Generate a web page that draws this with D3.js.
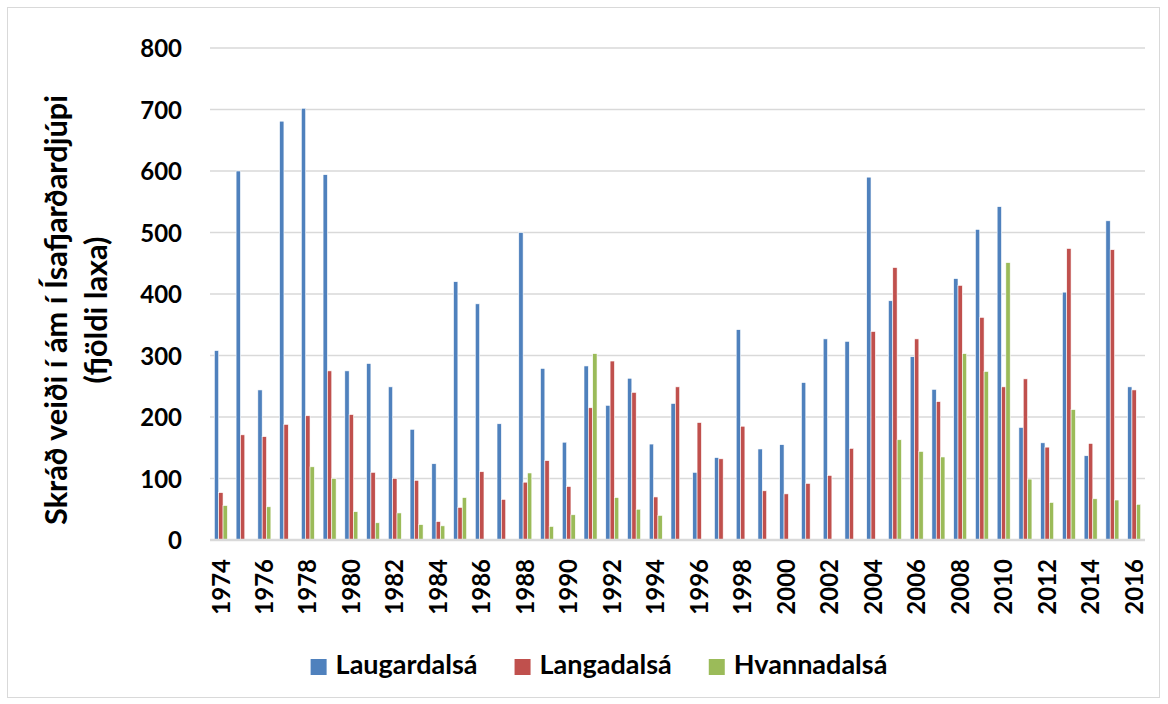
<!DOCTYPE html>
<html>
<head>
<meta charset="utf-8">
<script src="https://cdn.jsdelivr.net/npm/d3@7"></script>
<style>
  body { margin: 0; background: #fff; }
  svg text { font-family: Lato, "Open Sans", sans-serif; font-weight: 700; fill: #000; }
</style>
</head>
<body>
<div id="chart"></div>
<script>
var years = d3.range(1974, 2017);

var laugardalsa = [308, 600, 244, 681, 702, 594, 275, 287, 249, 180, 124, 420, 384, 189, 500,
	279, 159, 283, 219, 263, 156, 222, 110, 134, 342, 148, 155, 256,
	327, 323, 590, 389, 298, 245, 425, 505, 542, 183, 158, 403, 137, 519, 249];

var langadalsa = [77, 171, 168, 188, 202, 275, 204, 110, 100, 97, 30, 53, 111, 66, 94,
	129, 87, 215, 291, 240, 70, 249, 191, 132, 185, 80, 75, 92,
	105, 149, 339, 443, 327, 225, 414, 362, 249, 262, 151, 474, 157, 472, 244];

var hvannadalsa = [56, null, 54, null, 119, 100, 46, 28, 44, 25, 23, 69, null, null, 109,
	22, 41, 303, 69, 50, 40, null, null, null, null, null, null, null,
	null, null, null, 163, 144, 135, 303, 274, 451, 99, 61, 212, 67, 65, 58];

var seriesNames = ['Laugardalsá', 'Langadalsá', 'Hvannadalsá'];
var seriesColors = ['#4F81BD', '#C0504D', '#9BBB59'];
var yTicks = [0, 100, 200, 300, 400, 500, 600, 700, 800];
var xTickYears = years.filter(y => y % 2 === 0);
var yTitle = ['Skráð veiði í ám í Ísafjarðardjúpi', '(fjöldi laxa)'];

var svgWidth = 1168,
	svgHeight = 704;

var plot = {l: 210, r: 1145, t: 48, b: 540};

var svg = d3.select('#chart')
	.append('svg')
	.attr('width', svgWidth)
	.attr('height', svgHeight);

// outer chart border
svg.append('rect')
	.attr('x', 7.5).attr('y', 7.5)
	.attr('width', 1152).attr('height', 690)
	.attr('fill', 'none')
	.attr('stroke', '#D9D9D9')
	.attr('stroke-width', 1);

var table = years.map((yr, i) => ({
	year: yr,
	values: [laugardalsa[i], langadalsa[i], hvannadalsa[i]]
}));

var x0 = d3.scaleBand()
	.domain(years)
	.range([plot.l, plot.r])
	.paddingInner(0.4)
	.paddingOuter(0.2);

var x1 = d3.scaleBand()
	.domain([0, 1, 2])
	.range([0, x0.bandwidth()]);

var yScale = d3.scaleLinear()
	.domain([0, 800])
	.range([plot.b, plot.t]);

// gridlines
svg.append('g')
	.selectAll('line')
	.data(yTicks.filter(t => t > 0))
	.enter()
	.append('line')
	.attr('x1', plot.l).attr('x2', plot.r)
	.attr('y1', d => yScale(d)).attr('y2', d => yScale(d))
	.attr('stroke', '#D9D9D9')
	.attr('stroke-width', 1.5);

// y axis labels
var yAxis = svg.append('g')
	.attr('transform', `translate(${plot.l},0)`)
	.call(d3.axisLeft(yScale).tickValues(yTicks).tickSize(0).tickPadding(28));
yAxis.select('.domain').remove();
yAxis.selectAll('text')
	.style('font-size', '24px')
	.attr('dy', '0.36em');

// bars
var groups = svg.append('g')
	.selectAll('g')
	.data(table)
	.enter()
	.append('g')
	.attr('transform', d => `translate(${x0(d.year)},0)`);

groups.selectAll('rect')
	.data(d => d.values.map((v, k) => ({k: k, v: v})).filter(e => e.v != null))
	.enter()
	.append('rect')
	.attr('x', d => x1(d.k))
	.attr('width', x1.bandwidth())
	.attr('y', d => yScale(d.v))
	.attr('height', d => yScale(0) - yScale(d.v))
	.attr('fill', d => seriesColors[d.k])
	.attr('stroke', '#fff')
	.attr('stroke-width', 0.6);

// baseline
svg.append('line')
	.attr('x1', plot.l).attr('x2', plot.r)
	.attr('y1', yScale(0)).attr('y2', yScale(0))
	.attr('stroke', '#D9D9D9')
	.attr('stroke-width', 2.5);

// x axis labels
var xAxis = svg.append('g')
	.attr('transform', `translate(0,${plot.b})`)
	.call(d3.axisBottom(x0).tickValues(xTickYears).tickSize(0).tickPadding(0));
xAxis.select('.domain').remove();
xAxis.selectAll('text')
	.style('font-size', '24px')
	.attr('text-anchor', 'end')
	.attr('transform', 'rotate(-90)')
	.attr('x', -19)
	.attr('y', 0)
	.attr('dy', '0.36em');

// y axis title, font sized so the first line is ~430px long
var titleG = svg.append('g')
	.attr('transform', 'translate(0,310)');
var titleText = titleG.selectAll('text')
	.data(yTitle)
	.enter()
	.append('text')
	.attr('transform', (d, i) => `translate(${i === 0 ? 67 : 107},0)rotate(-90)`)
	.attr('text-anchor', 'middle')
	.style('font-size', '26px')
	.text(d => d);
var titleSize = 26 * 430 / titleText.nodes()[0].getComputedTextLength();
titleText.style('font-size', titleSize + 'px');

// legend
var legend = svg.append('g');
var items = legend.selectAll('g')
	.data(seriesNames)
	.enter()
	.append('g');
items.append('rect')
	.attr('width', 16).attr('height', 16)
	.attr('y', 659)
	.attr('fill', (d, i) => seriesColors[i]);
var legendText = items.append('text')
	.attr('x', 25)
	.attr('y', 674)
	.style('font-size', '25px')
	.text(d => d);
var legendSize = 25 * 142 / legendText.nodes()[0].getComputedTextLength();
legendText.style('font-size', legendSize + 'px');

var xPos = 0;
items.each(function() {
	var g = d3.select(this);
	g.attr('transform', `translate(${xPos},0)`);
	xPos += 25 + g.select('text').node().getComputedTextLength() + 37;
});
var legendWidth = xPos - 37;
legend.attr('transform', `translate(${599 - legendWidth / 2},0)`);
</script>
</body>
</html>
